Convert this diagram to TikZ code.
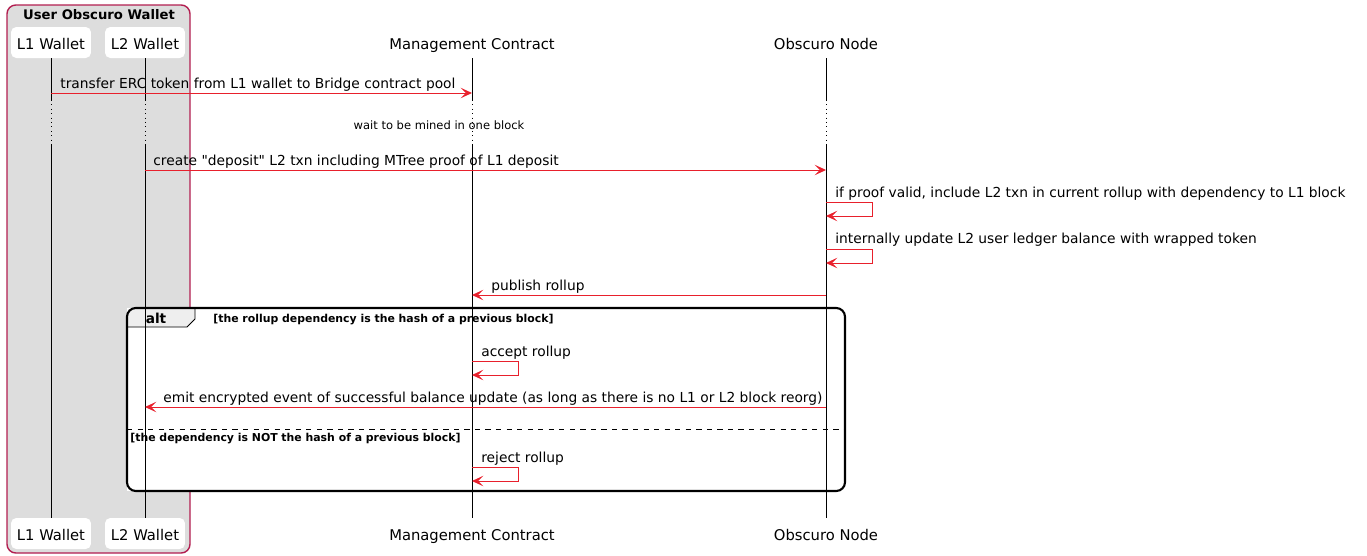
\documentclass[tikz,border=0pt]{standalone}
\usepackage{fontspec}
\setmainfont{DejaVu Sans}[Ligatures=TeXOff]
\usetikzlibrary{positioning, arrows.meta}
\definecolor{umlred}{RGB}{232,32,44}
\definecolor{grpedge}{RGB}{178,30,80}
\definecolor{grpfill}{RGB}{221,221,221}
\definecolor{tabfill}{RGB}{238,238,238}
\tikzset{msg/.style={draw=umlred, line width=0.55pt, -{Stealth[length=6.5pt,width=6pt,inset=3pt]}}}
\tikzset{lbl/.style={font=\fontsize{7.85}{9}\selectfont, inner sep=0pt, anchor=base west}}
\tikzset{small/.style={font=\fontsize{6.55}{7.5}\selectfont, inner sep=0pt, anchor=base}}
\tikzset{cond/.style={font=\fontsize{6.2}{7.5}\selectfont\bfseries, inner sep=0pt, anchor=base west}}
\tikzset{party/.style={fill=white, rounded corners=3pt, minimum width=1.6cm, minimum height=0.62cm, inner sep=0pt, text height=9.3pt, text depth=0.8pt, font=\fontsize{8.4}{10}\selectfont}}
\tikzset{life/.style={line width=0.5pt}}

\begin{document}
\begin{tikzpicture}[x=0.02cm, y=-0.02cm]
    \useasboundingbox (0,0) rectangle (1367,555);

    % wallet group
    \draw[draw=grpedge, fill=grpfill, line width=0.8pt, rounded corners=5pt] (7,5) rectangle (190,553);
    \node[font=\fontsize{7.5}{9}\selectfont\bfseries, inner sep=0pt, anchor=base] (grp) at (99,19) {User Obscuro Wallet};

    % participants
    \node[party] (l1t) at (51,42.5) {L1 Wallet};
    \node[party] (l2t) at (145,42.5) {L2 Wallet};
    \node[party] (mct) at (472,42.5) {Management Contract};
    \node[party] (ont) at (826,42.5) {Obscuro Node};
    \node[party] (l1b) at (51,533.5) {L1 Wallet};
    \node[party] (l2b) at (145,533.5) {L2 Wallet};
    \node[party] (mcb) at (472,533.5) {Management Contract};
    \node[party] (onb) at (826,533.5) {Obscuro Node};

    % rows
    \coordinate (gapA) at (0,100);
    \coordinate (gapB) at (0,145);
    \coordinate (r1) at (0,93);
    \coordinate (r2) at (0,170);
    \coordinate (r3) at (0,295);
    \coordinate (r4) at (0,407);

    % alt frame
    \fill[white] (127,308) rectangle (845,491);
    \fill[tabfill] (128,309) -- (195,309) -- (195,319) -- (187,327) -- (128,327) -- cycle;
    \draw[line width=0.5pt] (128,327) -- (187,327) -- (195,319) -- (195,308);
    \node[font=\fontsize{7.8}{9}\selectfont\bfseries, inner sep=0pt, anchor=base] (alt) at (156,323) {alt};
    \draw[line width=0.4pt, dashed] (127,429) -- (845,429);

    % lifelines
    \foreach \p/\q in {l1t/l1b, l2t/l2b, mct/mcb, ont/onb} {
        \draw[life] (\p) -- (\p |- gapA);
        \draw[life, dotted] (\p |- gapA) -- (\p |- gapB);
        \draw[life] (\p |- gapB) -- (\q);
    }

    \draw[line width=1.2pt, rounded corners=5pt] (127,308) rectangle (845,491);

    % messages
    \draw[msg] (l1t |- r1) -- (mct |- r1);
    \node[lbl] (m1) at (60,88) {transfer ERC token from L1 wallet to Bridge contract pool};
    \node[small] (wait) at (439,129) {wait to be mined in one block};
    \draw[msg] (l2t |- r2) -- (ont |- r2);
    \node[lbl] (m2) at (153,165) {create "deposit" L2 txn including MTree proof of L1 deposit};
    \node[lbl] (m3) at (835,197) {if proof valid, include L2 txn in current rollup with dependency to L1 block};
    \draw[msg] (826,202) -- ++(46,0) -- ++(0,14) -- (826,216);
    \node[lbl] (m4) at (835,243) {internally update L2 user ledger balance with wrapped token};
    \draw[msg] (826,249) -- ++(46,0) -- ++(0,14) -- (826,263);
    \draw[msg] (ont |- r3) -- (mct |- r3);
    \node[lbl] (m5) at (491,290) {publish rollup};
    \node[cond] (c1) at (213,322) {[the rollup dependency is the hash of a previous block]};
    \node[lbl] (m6) at (481,356) {accept rollup};
    \draw[msg] (472,361) -- ++(46,0) -- ++(0,14) -- (472,375);
    \draw[msg] (ont |- r4) -- (l2t |- r4);
    \node[lbl] (m7) at (163,402) {emit encrypted event of successful balance update (as long as there is no L1 or L2 block reorg)};
    \node[cond] (c2) at (130,441) {[the dependency is NOT the hash of a previous block]};
    \node[lbl] (m8) at (481,462) {reject rollup};
    \draw[msg] (472,467) -- ++(46,0) -- ++(0,14) -- (472,481);
\end{tikzpicture}
\end{document}
